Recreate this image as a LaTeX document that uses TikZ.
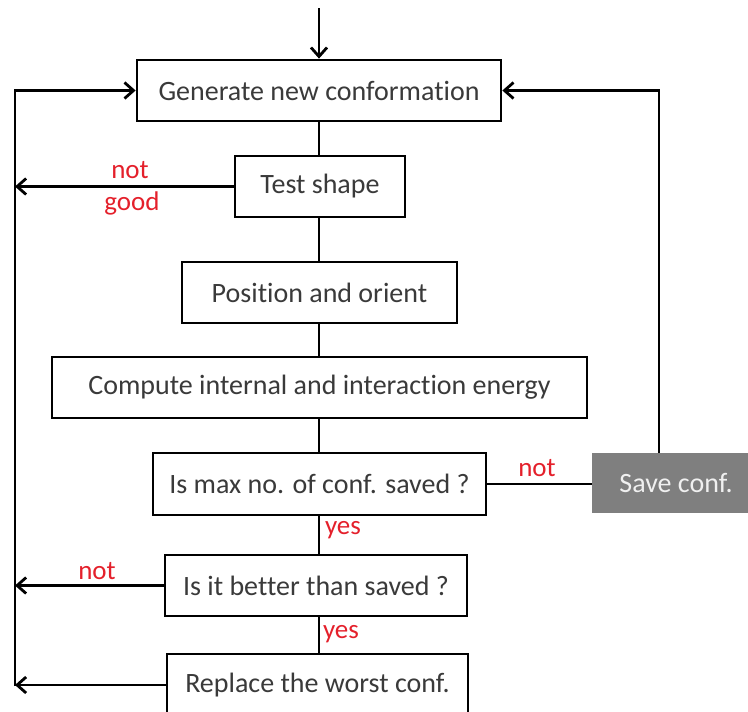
\documentclass[tikz,border=0pt]{standalone}
\usepackage{fontspec}
\setmainfont{Carlito}[Ligatures={NoCommon}]
\usetikzlibrary{arrows.meta}
\definecolor{txt}{HTML}{3A3A3A}
\definecolor{lbl}{HTML}{E4202B}
\definecolor{savegray}{HTML}{7F7F7F}
\begin{document}
\begin{tikzpicture}[x=1pt,y=-1pt,
  box/.style={draw=black,line width=2.8pt,fill=white,inner sep=0pt,text=txt,font=\fontsize{28}{32}\selectfont},
  conn/.style={line width=2.8pt,draw=black},
  arr/.style={conn,-{Straight Barb[length=9pt,width=16pt,line width=2.8pt]}},
  lab/.style={text=lbl,font=\fontsize{27}{30}\selectfont,inner sep=0pt}]
\useasboundingbox (0,0) rectangle (748,712);
\clip (0,0) rectangle (748,712);
\node[box,minimum width=364pt,minimum height=61pt] (b1) at (319,90.5) {Generate new conformation};
\node[box,minimum width=170pt,minimum height=61pt] (b2) at (320,186.5) {Test shape};
\node[box,minimum width=275pt,minimum height=61pt] (b3) at (319.5,292.5) {Position and orient};
\node[box,minimum width=535pt,minimum height=61pt] (b4) at (319.5,387.5) {Compute internal and interaction energy};
\node[box,minimum width=333pt,minimum height=62pt] (b5) at (319.5,484) {Is max no. of conf. saved ?};
\node[fill=savegray,minimum width=168pt,minimum height=60pt,inner sep=0pt,text=white!94!black,font=\fontsize{28}{32}\selectfont] (sv) at (676,483) {Save conf.};
\node[box,minimum width=302pt,minimum height=61pt] (b6) at (316,585.5) {Is it better than saved ?};
\node[box,minimum width=301pt,minimum height=62pt] (b7) at (317.5,685) {Replace the worst conf.};
\coordinate (top) at (319,8);
\coordinate (Lt) at (15,90.5);
\coordinate (Lb) at (15,686);
\coordinate (Rt) at (659,90.5);
% main chain
\draw[arr] (top) -- (top |- b1.north);
\draw[conn] (b1.south -| top) -- (b2.north -| top);
\draw[conn] (b2.south -| top) -- (b3.north -| top);
\draw[conn] (b3.south -| top) -- (b4.north -| top);
\draw[conn] (b4.south -| top) -- (b5.north -| top);
\draw[conn] (b5.south -| top) -- (b6.north -| top);
\draw[conn] (b6.south -| top) -- (b7.north -| top);
% left return
\draw[arr] (Lb) -- (Lt) -- (b1.west);
\draw[arr] (b2.west) -- (b2.west -| Lt);
\draw[arr] (b6.west) -- (b6.west -| Lt);
\draw[arr] (b7.west) -- (b7.west -| Lt);
% right loop
\draw[conn] (b5.east) -- (b5.east -| sv.west);
\draw[arr] (Rt |- sv.north) -- (Rt) -- (b1.east);
% labels
\node[lab] (l1) at (130,170) {not};
\node[lab] (l2) at (132,203) {good};
\node[lab] (l3) at (537,468) {not};
\node[lab] (l4) at (343,530) {yes};
\node[lab] (l5) at (97,571) {not};
\node[lab] (l6) at (341,634) {yes};
\end{tikzpicture}
\end{document}
